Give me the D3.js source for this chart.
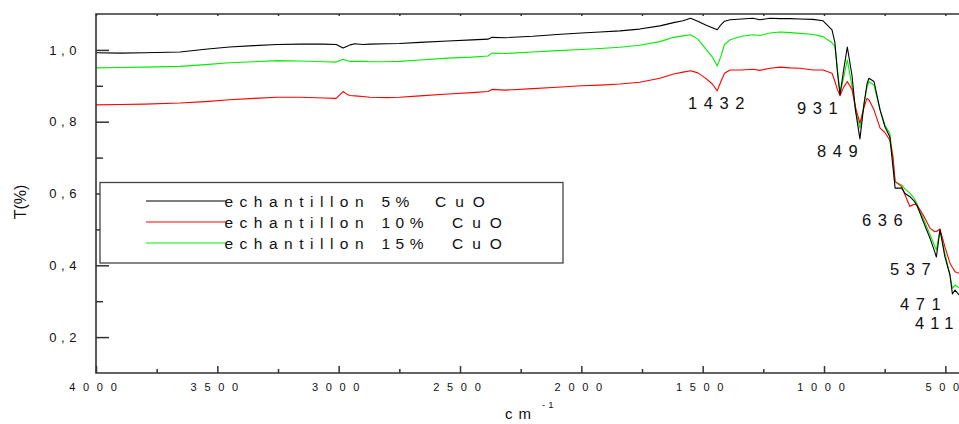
<!DOCTYPE html>
<html>
<head>
<meta charset="utf-8">
<script src="https://cdn.jsdelivr.net/npm/d3@7"></script>
<style>
  html, body { margin: 0; padding: 0; background: #fff; }
  svg { display: block; }
  text { font-family: "Liberation Sans", Arial, sans-serif; fill: #111; }
</style>
</head>
<body>
<svg id="chart" width="959" height="424"></svg>
<script>
// Wavenumbers (cm-1) of the sampled spectrum points
const wavenumbers = [4000, 3900, 3800, 3654, 3550, 3450, 3350, 3254, 3159, 3060, 3010, 2982, 2965, 2953, 2933, 2900, 2871, 2800, 2750, 2665, 2550, 2450, 2385, 2368, 2315, 2200, 2100, 2000, 1923, 1841, 1760, 1676, 1620, 1581, 1550, 1520, 1490, 1460, 1440, 1425, 1410, 1387, 1340, 1293, 1264, 1223, 1180, 1140, 1099, 1045, 1004, 967, 955, 945, 934, 920, 904, 885, 870, 852, 835, 823, 815, 794, 769, 749, 729, 716, 707, 680, 666, 646, 630, 618, 604, 591, 563, 545, 537, 522, 502, 481, 471, 460, 444, 420, 400];

// Transmittance for each sample
const cuo5 = [0.992, 0.991, 0.992, 0.994, 1.002, 1.008, 1.012, 1.015, 1.016, 1.016, 1.015, 1.005, 1.010, 1.014, 1.017, 1.015, 1.016, 1.017, 1.018, 1.021, 1.025, 1.028, 1.030, 1.035, 1.034, 1.038, 1.043, 1.047, 1.050, 1.053, 1.058, 1.067, 1.076, 1.081, 1.088, 1.080, 1.070, 1.062, 1.056, 1.070, 1.080, 1.084, 1.086, 1.088, 1.084, 1.088, 1.087, 1.087, 1.086, 1.085, 1.081, 1.056, 1.020, 0.940, 0.875, 0.940, 1.008, 0.930, 0.830, 0.752, 0.850, 0.905, 0.921, 0.912, 0.833, 0.786, 0.758, 0.675, 0.615, 0.615, 0.600, 0.591, 0.580, 0.568, 0.545, 0.522, 0.475, 0.440, 0.423, 0.499, 0.424, 0.373, 0.320, 0.331, 0.318, 0.310, 0.300];
const cuo10 = [0.847, 0.848, 0.849, 0.852, 0.856, 0.861, 0.865, 0.868, 0.868, 0.866, 0.865, 0.884, 0.876, 0.873, 0.872, 0.870, 0.868, 0.867, 0.868, 0.872, 0.877, 0.881, 0.884, 0.890, 0.888, 0.892, 0.896, 0.900, 0.902, 0.905, 0.910, 0.921, 0.933, 0.938, 0.942, 0.936, 0.922, 0.905, 0.886, 0.912, 0.935, 0.944, 0.944, 0.946, 0.943, 0.949, 0.952, 0.950, 0.949, 0.944, 0.944, 0.935, 0.912, 0.890, 0.872, 0.895, 0.912, 0.890, 0.840, 0.796, 0.840, 0.865, 0.861, 0.833, 0.782, 0.770, 0.749, 0.703, 0.633, 0.619, 0.596, 0.564, 0.570, 0.568, 0.554, 0.540, 0.503, 0.494, 0.494, 0.501, 0.452, 0.406, 0.394, 0.382, 0.378, 0.370, 0.365];
const cuo15 = [0.950, 0.951, 0.952, 0.954, 0.959, 0.964, 0.967, 0.970, 0.969, 0.967, 0.966, 0.974, 0.970, 0.968, 0.968, 0.968, 0.967, 0.967, 0.968, 0.972, 0.977, 0.980, 0.983, 0.991, 0.990, 0.994, 0.998, 1.001, 1.004, 1.0075, 1.013, 1.023, 1.035, 1.039, 1.042, 1.030, 1.005, 0.980, 0.955, 0.982, 1.015, 1.028, 1.038, 1.042, 1.040, 1.047, 1.050, 1.048, 1.046, 1.043, 1.037, 1.020, 1.009, 0.950, 0.879, 0.920, 0.972, 0.900, 0.830, 0.782, 0.850, 0.895, 0.912, 0.902, 0.833, 0.791, 0.768, 0.700, 0.633, 0.624, 0.612, 0.601, 0.588, 0.573, 0.552, 0.531, 0.485, 0.455, 0.443, 0.499, 0.434, 0.373, 0.336, 0.345, 0.338, 0.330, 0.325];

const seriesWord = "echantillon";
const seriesLoadings = ["5%", "10%", "15%"];
const seriesOxide = "CuO";
const seriesColors = ["#000000", "#ff0000", "#00ee00"];

// Band assignments written next to the absorption minima
const bandLabels = ["1432", "931", "849", "636", "537", "471", "411"];

const xMajorTicks = [4000, 3500, 3000, 2500, 2000, 1500, 1000, 500];
const yMajorTicks = [0.2, 0.4, 0.6, 0.8, 1.0];

const svg = d3.select("#chart");
const plotLeft = 96, plotTop = 14, plotBottom = 373;

const x = d3.scaleLinear().domain([4000, 400]).range([plotLeft, plotLeft + 3600 * 0.24267]);
const y = d3.scaleLinear().domain([0.1, 1.1]).range([plotBottom, plotTop]);
const plotRight = x(400);

const axisColor = "#333";

// Spectra
const allSeries = [cuo5, cuo10, cuo15];
const line = d3.line().x(d => x(d[0])).y(d => y(d[1]));
// green first, then red, black on top
[2, 1, 0].forEach(i => {
  svg.append("path")
    .datum(wavenumbers.map((w, k) => [w, allSeries[i][k]]))
    .attr("d", line)
    .attr("fill", "none")
    .attr("stroke", seriesColors[i])
    .attr("stroke-width", 1.1)
    .attr("stroke-linejoin", "round");
});

// Bottom axis: labelled ticks every 500, minor ticks between
const xMinor = d3.range(3750, 400, -500);
const gxMinor = svg.append("g").attr("transform", `translate(0,${plotBottom})`)
  .call(d3.axisBottom(x).tickValues(xMinor).tickSize(-4).tickFormat(""));
const gx = svg.append("g").attr("transform", `translate(0,${plotBottom})`)
  .call(d3.axisBottom(x).tickValues(xMajorTicks).tickSize(-7).tickPadding(10)
    .tickFormat(d3.format("d")));
// spread the digits of each tick label apart, without trailing space
gx.selectAll("text").each(function () {
  const t = d3.select(this);
  const s = t.text();
  t.text(null).attr("font-size", 11).attr("fill", "#111").attr("text-anchor", "start")
    .attr("x", -((s.length * 6.12 + (s.length - 1) * 7.7) / 2) - 3.5);
  s.split("").forEach((c, i) => t.append("tspan").attr("dx", i ? 7.7 : 0).text(c));
});

// Top axis with short inward ticks
const gxTop = svg.append("g").attr("transform", `translate(0,${plotTop})`)
  .call(d3.axisTop(x).tickValues(d3.range(4000, 400, -250)).tickSize(-2).tickFormat(""));

// Left axis: labelled ticks every 0.2, minor ticks between
const yMinor = [0.3, 0.5, 0.7, 0.9];
const gyMinor = svg.append("g").attr("transform", `translate(${plotLeft},0)`)
  .call(d3.axisLeft(y).tickValues(yMinor).tickSize(-7).tickFormat(""));
const gy = svg.append("g").attr("transform", `translate(${plotLeft},0)`)
  .call(d3.axisLeft(y).tickValues(yMajorTicks).tickSize(-13).tickPadding(15)
    .tickFormat(d => d3.format(".1f")(d).replace(".", ",")));
gy.selectAll("text").attr("font-size", 13).attr("letter-spacing", 4.6).attr("fill", "#111");

[gxMinor, gx, gxTop, gyMinor, gy].forEach(g => {
  g.select(".domain").remove();
  g.selectAll("line").attr("stroke", axisColor).attr("stroke-width", 1.5);
});

// Frame
svg.append("path")
  .attr("d", `M${plotRight},${plotTop}H${plotLeft}V${plotBottom}H${plotRight}V${plotTop}`)
  .attr("fill", "none").attr("stroke", axisColor).attr("stroke-width", 1.6);

// Axis titles
svg.append("text")
  .attr("transform", "translate(26,202) rotate(-90)")
  .attr("text-anchor", "middle").attr("font-size", 16).text("T(%)");

const xt = svg.append("text").attr("x", 505).attr("y", 419).attr("font-size", 15)
  .attr("letter-spacing", 6);
xt.append("tspan").text("cm");
xt.append("tspan").attr("dx", 5).attr("dy", -11).attr("font-size", 9.5)
  .attr("letter-spacing", 3).text("-1");

// Band labels
const bandPos = [[688, 109], [797, 114], [817, 157], [862, 226], [890, 275], [900, 310], [915, 329]];
svg.append("g").selectAll("text").data(bandLabels).join("text")
  .attr("x", (d, i) => bandPos[i][0]).attr("y", (d, i) => bandPos[i][1])
  .attr("font-size", 16.5).attr("letter-spacing", (d, i) => i === 6 ? 6 : 6.6).text(d => d);

// Legend
const lg = svg.append("g");
lg.append("rect").attr("x", 100).attr("y", 182.5).attr("width", 463).attr("height", 80.5)
  .attr("fill", "#fff").attr("stroke", "#444").attr("stroke-width", 1.3);
const oxideX = [435, 452, 452];
seriesLoadings.forEach((load, i) => {
  const ly = 201 + i * 21;
  lg.append("line").attr("x1", 146).attr("x2", 226).attr("y1", ly).attr("y2", ly)
    .attr("stroke", seriesColors[i]).attr("stroke-width", 1.1);
  const t = lg.append("text").attr("y", ly + 5.5).attr("font-size", 15.5);
  t.append("tspan").attr("x", 224.5).attr("letter-spacing", 6.5).text(seriesWord);
  t.append("tspan").attr("x", 381.5).attr("letter-spacing", 5.5).text(load);
  t.append("tspan").attr("x", oxideX[i]).attr("letter-spacing", 9).text(seriesOxide);
});
</script>
</body>
</html>
